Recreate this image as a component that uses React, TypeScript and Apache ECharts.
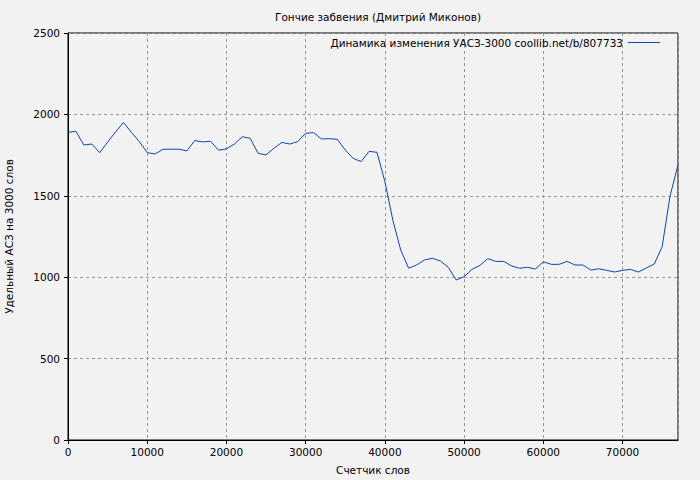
import React, { useEffect, useRef } from "react";
import * as echarts from "echarts";

const titleText = "Гончие забвения (Дмитрий Миконов)";
const seriesName = "Динамика изменения УАСЗ-3000 coollib.net/b/807733";
const xAxisName = "Счетчик слов";
const yAxisName = "Удельный АСЗ на 3000 слов";

const wordCounts = [
  0, 1000, 2000, 3000, 4000, 5000, 6000, 7000, 8000, 9000,
  10000, 11000, 12000, 13000, 14000, 15000, 16000, 17000, 18000, 19000,
  20000, 21000, 22000, 23000, 24000, 25000, 26000, 27000, 28000, 29000,
  30000, 31000, 32000, 33000, 34000, 35000, 36000, 37000, 38000, 39000,
  40000, 41000, 42000, 43000, 44000, 45000, 46000, 47000, 48000, 49000,
  50000, 51000, 52000, 53000, 54000, 55000, 56000, 57000, 58000, 59000,
  60000, 61000, 62000, 63000, 64000, 65000, 66000, 67000, 68000, 69000,
  70000, 71000, 72000, 73000, 74000, 75000, 76000, 77000,
];
const values = [
  1890, 1896, 1812, 1818, 1765, 1830, 1892, 1951, 1890, 1833,
  1765, 1757, 1786, 1786, 1786, 1776, 1839, 1831, 1835, 1780,
  1788, 1818, 1863, 1853, 1761, 1751, 1792, 1828, 1818, 1833,
  1884, 1888, 1849, 1851, 1847, 1781, 1730, 1710, 1773, 1767,
  1587, 1351, 1167, 1055, 1075, 1106, 1116, 1100, 1061, 983,
  1003, 1048, 1073, 1114, 1097, 1097, 1069, 1055, 1061, 1050,
  1095, 1079, 1079, 1097, 1075, 1075, 1044, 1052, 1042, 1032,
  1042, 1048, 1032, 1057, 1081, 1187, 1500, 1689,
];

const FONT = "DejaVu Sans";
const FS = 10.5;

export default function App() {
  const ref = useRef<HTMLDivElement>(null);
  useEffect(() => {
    if (!ref.current) return;
    const chart = echarts.init(ref.current, undefined, { renderer: "svg" });
    const data = wordCounts.map((x, i) => [x, values[i]]);
    chart.setOption({
      animation: false,
      backgroundColor: "#f2f2f2",
      textStyle: { fontFamily: FONT },
      title: {
        text: titleText,
        left: 270,
        top: 6,
        textStyle: { fontFamily: FONT, fontSize: FS, fontWeight: "normal", color: "#000" },
      },
      legend: {
        right: 35,
        top: 32,
        align: "right",
        itemWidth: 32,
        itemHeight: 1,
        itemGap: 8,
        textStyle: { fontFamily: FONT, fontSize: FS, color: "#000" },
        data: [{ name: seriesName, icon: "rect" }],
      },
      grid: {
        left: 68,
        right: 22,
        top: 33,
        bottom: 40,
        outerBoundsMode: "none",
        containLabel: false,
        show: true,
        borderColor: "#000",
        borderWidth: 1,
        backgroundColor: "transparent",
      },
      xAxis: {
        type: "value",
        min: 0,
        max: 77000,
        interval: 10000,
        name: xAxisName,
        nameLocation: "middle",
        nameGap: 24,
        nameTextStyle: { fontFamily: FONT, fontSize: FS, color: "#000" },
        axisLine: { show: true, lineStyle: { color: "#000", width: 1 } },
        axisTick: { show: true, length: 4, lineStyle: { color: "#000" } },
        axisLabel: {
          fontFamily: FONT,
          fontSize: FS,
          color: "#000",
          margin: 6,
          showMaxLabel: false,
          formatter: (v: number) => String(v),
        },
        splitLine: { show: true, lineStyle: { color: "#999", type: [3, 3], width: 1 } },
      },
      yAxis: {
        type: "value",
        min: 0,
        max: 2500,
        interval: 500,
        name: yAxisName,
        nameLocation: "middle",
        nameGap: 54,
        nameTextStyle: { fontFamily: FONT, fontSize: FS, color: "#000" },
        axisLine: { show: true, lineStyle: { color: "#000", width: 1 } },
        axisTick: { show: true, length: 4, lineStyle: { color: "#000" } },
        axisLabel: {
          fontFamily: FONT,
          fontSize: FS,
          color: "#000",
          margin: 8,
          formatter: (v: number) => String(v),
        },
        splitLine: { show: true, lineStyle: { color: "#999", type: [3, 3], width: 1 } },
      },
      series: [
        {
          name: seriesName,
          type: "line",
          data,
          symbol: "none",
          lineStyle: { color: "#0c46ab", width: 1 },
          itemStyle: { color: "#0c46ab" },
        },
      ],
    });
    return () => chart.dispose();
  }, []);
  return (
    <div
      ref={ref}
      style={{ position: "fixed", left: 0, top: 0, width: 700, height: 480 }}
    />
  );
}
